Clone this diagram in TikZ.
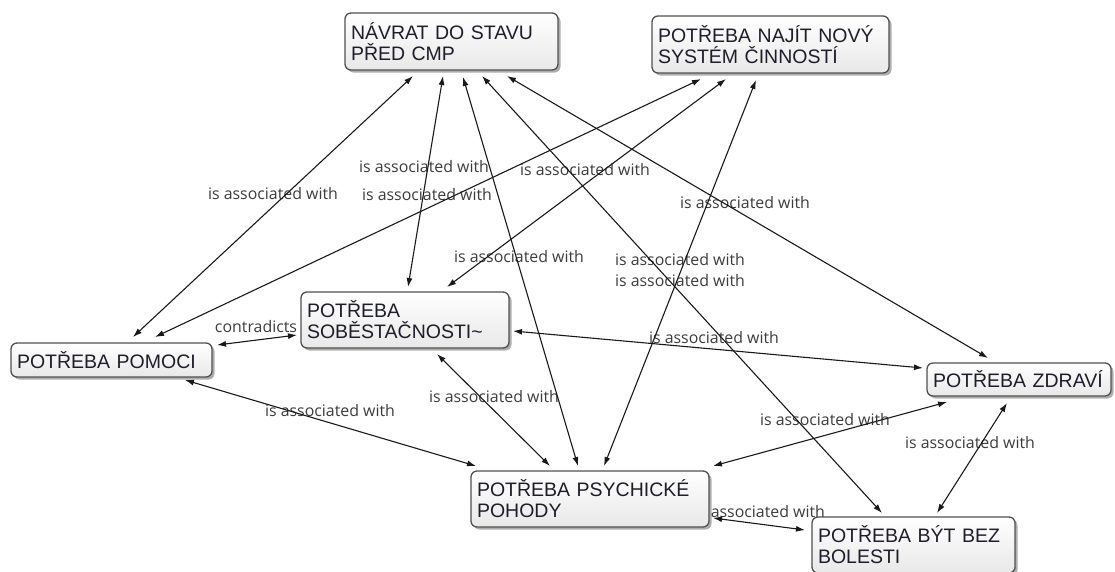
\documentclass[tikz,border=0pt]{standalone}
\usepackage{fontspec}
\setmainfont{Liberation Sans}
\newfontfamily\linkfont{Open Sans}
\usetikzlibrary{arrows.meta,shadows}

\definecolor{conceptborder}{RGB}{80,80,80}
\definecolor{concepttext}{RGB}{30,30,42}
\definecolor{linktext}{RGB}{60,60,60}
\definecolor{edgecolor}{RGB}{25,25,25}

\tikzset{
  concept/.style={
    rectangle, rounded corners=6pt, draw=conceptborder, line width=1.3pt,
    top color=white, bottom color=black!9,
    drop shadow={shadow xshift=2.5pt, shadow yshift=-2.5pt, opacity=0.45, fill=black!70},
    align=left, inner xsep=6pt, inner ysep=0pt,
    text=concepttext, font=\fontsize{19.5}{21}\selectfont
  },
  linkphrase/.style={
    inner sep=0pt, text=linktext, font=\linkfont\fontsize{15.9}{18}\selectfont
  },
  link/.style={
    draw=edgecolor, line width=1.1pt,
    {Latex[length=9pt,width=6pt]}-{Latex[length=9pt,width=6pt]}
  }
}

\begin{document}
\begin{tikzpicture}[x=1pt,y=-1pt]
\useasboundingbox (0,0) rectangle (1115,571);

% linking phrases (drawn first, so the concept boxes lie on top)
\node[linkphrase] (l1)  at (273,194) {is associated with};
\node[linkphrase] (l2)  at (424,167) {is associated with};
\node[linkphrase] (l3)  at (427,195) {is associated with};
\node[linkphrase] (l4)  at (585,170) {is associated with};
\node[linkphrase] (l5)  at (745,203) {is associated with};
\node[linkphrase] (l6)  at (519,257) {is associated with};
\node[linkphrase] (l7)  at (680,260) {is associated with};
\node[linkphrase] (l8)  at (680,281) {is associated with};
\node[linkphrase] (l9)  at (256,327) {contradicts};
\node[linkphrase] (l10) at (714,338) {is associated with};
\node[linkphrase] (l11) at (330,411) {is associated with};
\node[linkphrase] (l12) at (494,397) {is associated with};
\node[linkphrase] (l13) at (825,420) {is associated with};
\node[linkphrase] (l14) at (970,443) {is associated with};
\node[linkphrase] (l15) at (760,512) {is associated with};

% concepts
\node[concept, minimum width=213pt, minimum height=57pt, text width=201pt] (nav) at (451.5,41.5)
  {NÁVRAT DO STAVU\\PŘED CMP};
\node[concept, minimum width=237pt, minimum height=57pt, text width=225pt] (naj) at (770.5,44.5)
  {POTŘEBA NAJÍT NOVÝ\\SYSTÉM ČINNOSTÍ};
\node[concept, minimum width=208pt, minimum height=56pt, text width=196pt] (sob) at (405,320)
  {POTŘEBA\\SOBĚSTAČNOSTI\textasciitilde};
\node[concept, minimum width=201pt, minimum height=34pt, text width=189pt] (pom) at (111.5,360)
  {POTŘEBA POMOCI};
\node[concept, minimum width=184pt, minimum height=33pt, text width=172pt] (zdr) at (1019,379.5)
  {POTŘEBA ZDRAVÍ};
\node[concept, minimum width=238pt, minimum height=56pt, text width=226pt] (psy) at (590,499)
  {POTŘEBA PSYCHICKÉ\\POHODY};
\node[concept, minimum width=203pt, minimum height=56pt, text width=191pt] (bol) at (913.5,545)
  {POTŘEBA BÝT BEZ\\BOLESTI};

% connections
\draw[link] ([shift={(-38.5,34.5)}]nav.center) -- ([shift={(21.5,-23)}]pom.center);
\draw[link] ([shift={(-8.5,34.5)}]nav.center)  -- ([shift={(3,-33)}]sob.center);
\draw[link] ([shift={(11.5,35.5)}]nav.center)  -- ([shift={(-12,-33)}]psy.center);
\draw[link] ([shift={(30.5,34.5)}]nav.center)  -- ([shift={(-31.5,-32)}]bol.center);
\draw[link] ([shift={(55.5,34.5)}]nav.center)  -- ([shift={(-31,-21.5)}]zdr.center);

\draw[link] ([shift={(-69.5,34.5)}]naj.center) -- ([shift={(43.5,-23)}]pom.center);
\draw[link] ([shift={(-44.5,34.5)}]naj.center) -- ([shift={(42,-33)}]sob.center);
\draw[link] ([shift={(-14.5,35.5)}]naj.center) -- ([shift={(14,-33)}]psy.center);

\draw[link] ([shift={(-108,15)}]sob.center) -- ([shift={(105.5,-15)}]pom.center);
\draw[link] ([shift={(108,11)}]sob.center)  -- ([shift={(-96,-11.5)}]zdr.center);
\draw[link] ([shift={(32,34)}]sob.center)   -- ([shift={(-40,-33)}]psy.center);

\draw[link] ([shift={(73.5,20)}]pom.center) -- ([shift={(-114,-33)}]psy.center);
\draw[link] ([shift={(-72,22.5)}]zdr.center) -- ([shift={(123,-33)}]psy.center);
\draw[link] ([shift={(-12,23.5)}]zdr.center) -- ([shift={(23.5,-32)}]bol.center);
\draw[link] ([shift={(123,19)}]psy.center)  -- ([shift={(-108.5,-15)}]bol.center);
\end{tikzpicture}
\end{document}
